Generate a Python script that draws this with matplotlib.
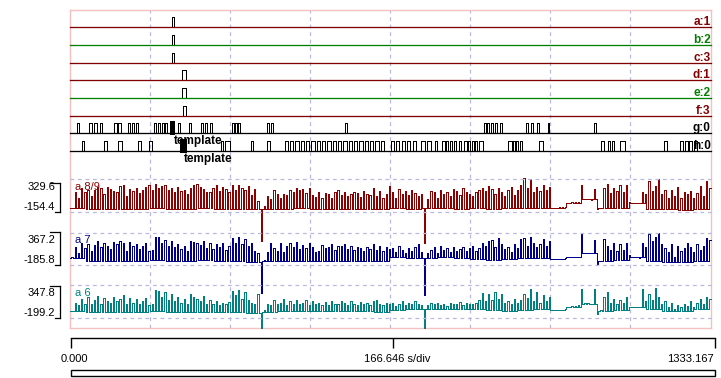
import numpy as np
import matplotlib
matplotlib.use("Agg")
import matplotlib.pyplot as plt
from matplotlib.lines import Line2D
from matplotlib.patches import Rectangle

T_END = 1333.167
S_PER_DIV = 166.646

# ---- digital channels: pulses as (start, end) in seconds
dig_names = ["a:1", "b:2", "c:3", "d:1", "e:2", "f:3", "g:0", "h:0"]
pulses_a = [(212.4, 216.6)]
pulses_b = [(212.4, 216.6)]
pulses_c = [(212.4, 216.6)]
pulses_d = [(233.2, 241.5)]
pulses_e = [(233.2, 241.5)]
pulses_f = [(235.3, 241.5)]
pulses_g = [(15.2, 20.1), (41.5, 46.3), (51.9, 56.7), (63.8, 67.9), (93.4, 98.2),
            (101.8, 106.5), (122.5, 126.7), (130.8, 135.0), (138.5, 142.7),
            (176.5, 180.7), (184.8, 189.0), (191.7, 195.8), (198.7, 202.9),
            (226.3, 230.5), (248.6, 252.7), (273.5, 277.6), (281.8, 286.0),
            (292.2, 297.0), (337.0, 341.2), (344.1, 348.2), (350.9, 355.1),
            (410.5, 414.7), (418.8, 423.0), (572.5, 576.7), (861.2, 865.3),
            (868.6, 872.2), (877.0, 881.1), (885.3, 889.4), (894.4, 898.5),
            (949.6, 953.8), (960.0, 964.2), (972.5, 976.6), (994.7, 998.2),
            (1090.8, 1095.0)]
pulses_h = [(25.5, 31.1), (72.1, 78.9), (101.8, 108.6), (143.3, 148.9), (165.5, 170.9),
            (314.9, 319.1), (324.0, 332.9), (376.5, 382.1), (410.5, 416.0),
            (447.9, 454.8), (458.9, 465.2), (469.9, 476.6), (480.9, 488.0), (492.2, 498.4),
            (503.2, 510.0), (514.2, 521.2), (525.4, 531.6), (536.4, 543.2), (547.4, 554.4),
            (558.6, 564.8), (569.6, 576.5), (580.6, 587.7), (591.8, 598.1), (602.8, 609.7),
            (613.8, 620.9), (625.1, 631.3), (636.1, 642.9), (647.1, 654.1), (668.7, 674.9),
            (679.0, 685.3), (691.5, 697.1), (701.9, 708.7), (714.4, 721.2), (731.6, 738.6),
            (744.0, 751.1), (759.4, 764.8), (774.6, 780.2), (783.5, 787.0), (790.5, 795.3),
            (799.5, 804.3), (809.2, 814.6), (820.3, 825.9), (828.6, 833.3), (836.9, 841.0),
            (843.7, 847.9), (850.8, 859.7), (911.6, 919.9), (922.6, 926.8), (928.9, 933.8),
            (936.5, 942.1), (977.5, 984.3), (1105.4, 1112.4), (1119.3, 1124.9),
            (1127.6, 1133.2), (1144.8, 1155.2), (1235.6, 1242.5), (1269.4, 1275.7),
            (1280.6, 1285.4), (1288.9, 1293.7), (1298.5, 1304.1)]
template_g = (209.7, 219.5)
template_h = (230.5, 244.4)

# ---- analog channels: spike peaks (200) and baseline blocks (40)
ana_names = ["a 8/9", "a 7", "a 6"]
rng_a89 = (-154.4, 329.6)
rng_a7 = (-185.8, 367.2)
rng_a6 = (-199.2, 347.8)

pk_a89 = [-90, 150, 60, 200, 150, 180, 90, 170, 220, 200,
          120, 210, 190, 160, 150, 230, 250, 80, 190, 160,
          200, 130, 180, 220, 250, 170, 260, 200, 230, 240,
          170, 200, 150, 220, 160, 170, 120, 200, 250, 260,
          210, 190, 150, 140, 200, 240, 160, 220, 190, 150,
          250, 180, 240, 200, 170, 230, 100, 190, 10, -580,
          -60, 80, 40, 180, 120, 60, 110, 100, 180, 140,
          200, 170, 190, 130, 200, 100, 70, 150, 60, 130,
          120, 60, 150, 170, 100, 140, 80, 120, 150, 130,
          70, 160, 120, 100, 200, 90, 160, 60, 120, 230,
          150, 60, 190, 110, 160, 100, 170, 130, 90, 120,
          -605, 40, 160, 140, 60, 180, 120, 150, 80, 190,
          160, 100, 200, 140, 120, 80, 140, 170, 200, 160,
          230, 190, 110, 200, 150, 90, 180, 210, 100, 170,
          240, 350, 200, 330, 150, 220, 160, 240, 180, 210,
          -86, -86, -80, -75, -70, -20, -5, -5, -5, 240,
          40, 40, 30, 190, -110, -90, 200, 260, 130, 200,
          160, 250, 140, 240, -10, -15, -20, -20, 150, 110,
          300, 160, 230, 330, 120, 170, 60, 180, 80, 210,
          50, 150, 110, 160, 60, 130, 230, 90, 300, 200]
bs_a89 = [-95, -110, -105, -100, -100, -95, -105, -100, -95, -100,
          -100, -110, -100, -100, -95, -100, -105, -100, -100, -110,
          -95, -100, -95, -90, -100, -95, -100, -95, -90, -85,
          -88, -20, 35, -95, -90, -15, -100, -110, -115, -100]

pk_a7 = [-40, 120, 30, 200, 110, 180, 60, 160, 220, 120,
         200, 150, 90, 210, 180, 230, 200, 60, 210, 140,
         180, 90, 150, 200, 60, 80, 300, 290, 200, 250,
         150, 230, 120, 180, 90, 140, 60, 220, 210, 190,
         160, 230, 100, 200, 90, 170, 120, 190, 80, 150,
         280, 200, 300, 180, 260, 150, 200, 60, 20, -650,
         -90, 40, 200, 110, 60, 190, 40, 150, 200, 130,
         210, 90, 160, 100, 190, 130, 40, 60, 160, 110,
         120, 180, 80, 140, 150, 170, 90, 140, 70, 120,
         100, 60, 130, 90, 180, 80, 150, 60, 120, 90,
         100, 40, 150, 70, 30, 110, 60, 120, 180, 40,
         -690, 30, 80, 120, 30, 140, 70, 100, 40, 120,
         60, 90, 130, 50, 110, 140, 60, 100, 190, 150,
         220, 250, 130, 270, 180, 90, 130, 40, 170, 110,
         260, 280, 150, 300, 200, 120, 180, 260, 150, 220,
         -80, -84, -80, -75, -60, -50, -40, -45, -40, 340,
         20, 20, 15, 250, -160, -110, 260, 150, 80, 200,
         50, 170, 80, 200, -10, -50, -50, -60, 200, 120,
         350, 220, 300, 360, 180, 100, 40, 180, -40, 150,
         60, 100, 190, 120, 40, 170, 80, 150, 280, 250]
bs_a7 = [-60, -120, -120, -110, -115, -100, -110, -110, -100, -110,
         -110, -130, -120, -110, -110, -120, -110, -120, -120, -110,
         -50, -60, -60, -50, -70, -80, -90, -80, -70, -60,
         -80, -45, 15, -110, -100, -50, -120, -130, -130, -110]

pk_a6 = [-80, 60, 20, 120, 40, 150, 30, 110, 170, 40,
         130, 80, 50, 160, 90, 120, 180, 30, 140, 60,
         120, 30, 80, 140, 20, 40, 270, 250, 150, 230,
         110, 200, 80, 160, 60, 120, 40, 200, 160, 120,
         90, 170, 30, 110, 40, 80, 20, 60, 30, 70,
         250, 180, 270, 120, 230, 100, 60, 30, 200, -355,
         -60, 40, 20, 100, 30, 60, 120, 20, 80, 40,
         110, 30, 60, 110, 20, 90, 30, 60, 20, 70,
         20, 80, 40, 30, 90, 50, 20, 80, 40, 20,
         70, 40, 60, 20, 90, 100, 40, 20, 60, 30,
         60, 10, 40, 80, 20, 50, 30, 90, 40, 20,
         -355, 20, 60, 30, 50, 20, 40, 10, 60, 30,
         40, 70, 20, 50, 40, 30, 60, 100, 220, 80,
         210, 100, 230, 120, 200, 60, 90, 30, 120, 60,
         100, 200, 130, 280, 90, 240, 60, 180, 80, 150,
         -60, -67, -67, -60, -40, -20, 0, 10, 20, 280,
         50, 50, 45, 290, -120, -60, 150, 240, 60, 120,
         40, 100, 50, 150, -20, -10, -10, -5, 280, 80,
         200, 100, 300, 160, 40, 90, -20, 60, -40, 20,
         -10, 40, 0, 80, -20, 60, 120, 40, 160, 120]
bs_a6 = [-80, -90, -100, -95, -90, -85, -100, -95, -90, -95,
         -90, -110, -90, -80, -75, -80, -70, -75, -80, -90,
         -60, -50, -40, -50, -50, -45, -60, -70, -60, -50,
         -65, -10, 45, -80, -60, -10, -40, -70, -70, -50]

W, H = 721, 378
DIG_COLORS = ["#800000", "#008000", "#800000", "#800000", "#008000", "#800000", "black", "black"]
ANA_COLORS = ["#8b0000", "#00008b", "#008080"]
GRID = "#b8b8e0"
FONT = "Liberation Sans"
LW = 0.72  # one pixel at 100 dpi
PEAK_FRAC = 0.4  # share of each sample period spent at the peak value


def px_axes(fig, x0, y0, x1, y1):
    ax = fig.add_axes([x0 / W, 1 - y1 / H, (x1 - x0) / W, (y1 - y0) / H])
    ax.set_xlim(0, T_END)
    ax.patch.set_visible(False)
    return ax


def fpx(x, y):
    return x / W, 1 - y / H


fig = plt.figure(figsize=(W / 100, H / 100), dpi=100)
fig.patch.set_facecolor("white")

# frame + vertical division grid
frame = px_axes(fig, 69.5, 9.5, 710.5, 327.5)
frame.set_xticks([S_PER_DIV * i for i in range(1, 8)])
frame.set_yticks([])
frame.tick_params(length=0, labelbottom=False)
frame.grid(axis="x", color=GRID, linestyle=(0, (3, 3)), linewidth=0.9)
for s in frame.spines.values():
    s.set_color("#f4c0c0")
    s.set_linewidth(1.0)

# digital rows: coloured low level, black pulses
dig_pulses = [pulses_a, pulses_b, pulses_c, pulses_d, pulses_e, pulses_f, pulses_g, pulses_h]
row_base = [27.3, 45.3, 63.0, 80.3, 98.3, 116.3, 133.3, 151.3]
for name, pulses, col, yb in zip(dig_names, dig_pulses, DIG_COLORS, row_base):
    ax = px_axes(fig, 69.5, yb - 10, 710.5, yb)
    ax.set_ylim(0, 1)
    ax.axis("off")
    ax.axhline(0, color=col, lw=LW * 1.3, clip_on=False)
    for s0, s1 in pulses:
        ax.stairs([1], [s0, s1], baseline=0, color="black", lw=LW,
                  antialiased=False, clip_on=False)
    ax.text(1.0, 0.2, name, transform=ax.transAxes, ha="right", va="baseline",
            color=col, fontsize=8.5, fontweight="bold", family=FONT)
    if name[0] in "gh":
        tpl = template_g if name[0] == "g" else template_h
        ax.fill_between(tpl, -0.15, 1.2, color="black", lw=0, clip_on=False)
        ax.annotate("template", xy=(tpl[0], 0), xytext=(3.5, -10.5),
                    textcoords="offset pixels", ha="left", va="baseline",
                    fontsize=8.5, fontweight="bold", family=FONT, annotation_clip=False)

# analog traces
ana_peaks = [pk_a89, pk_a7, pk_a6]
ana_base = [bs_a89, bs_a7, bs_a6]
ana_rng = [rng_a89, rng_a7, rng_a6]
bands = [(179.3, 212.3), (232.7, 265.3), (285.3, 318.3)]
brackets = [(183.3, 211.7), (232.3, 265.0), (285.7, 318.3)]
for name, pk, bs, rng, col, (yt, ybt), (bt, bb) in zip(ana_names, ana_peaks, ana_base,
                                                       ana_rng, ANA_COLORS, bands, brackets):
    ax = px_axes(fig, 69.5, yt, 710.5, ybt)
    ax.set_ylim(*rng)
    ax.axis("off")
    for v in rng:
        ax.axhline(v, color=GRID, linestyle=(0, (3, 3)), linewidth=0.9, clip_on=False)
    n = len(pk)
    per = T_END / n
    edges, vals = [], []
    for k in range(n):
        edges += [k * per, (k + 1 - PEAK_FRAC) * per]
        vals += [bs[k * len(bs) // n], pk[k]]
    edges.append(T_END)
    ax.stairs(vals, edges, baseline=None, color=col, lw=LW, antialiased=False, clip_on=False)
    ax.text(0.009, 0.78, name, transform=ax.transAxes, ha="left", va="center",
            color=col, fontsize=8, family=FONT)
    fig.text(*fpx(55, yt + 7.5), f"{rng[1]:.1f}", ha="right", va="center", fontsize=8, family=FONT)
    fig.text(*fpx(55, ybt - 5.5), f"{rng[0]:.1f}", ha="right", va="center", fontsize=8, family=FONT)
    for seg in [((50, bt), (59.5, bt)), ((59.5, bt), (59.5, bb)), ((55, bb), (59.5, bb))]:
        (xa, ya), (xb, yb2) = seg
        fig.add_artist(Line2D([xa / W, xb / W], [1 - ya / H, 1 - yb2 / H], color="black", lw=0.9))

# time ruler
rul = px_axes(fig, 70.5, 337.7, 714.5, 347.5)
rul.set_ylim(0, 1)
rul.axis("off")
rul.axhline(1, color="black", lw=1.0, clip_on=False)
rul.vlines([0, T_END / 2, T_END], 0, 1, color="black", lw=1.0, clip_on=False)
fig.text(*fpx(74, 358.7), f"{0:.3f}", ha="center", va="center", fontsize=8, family=FONT)
fig.text(*fpx(397.5, 358.7), f"{S_PER_DIV:.3f} s/div", ha="center", va="center", fontsize=8, family=FONT)
fig.text(*fpx(714, 358.7), f"{T_END:.3f}", ha="right", va="center", fontsize=8, family=FONT)
x0, y0 = fpx(70.5, 375.5)
x1, y1 = fpx(714.5, 369.5)
fig.add_artist(Rectangle((x0, y0), x1 - x0, y1 - y0, transform=fig.transFigure,
                         fill=False, edgecolor="black", lw=1.0))

fig.savefig("out.png", dpi=100)
